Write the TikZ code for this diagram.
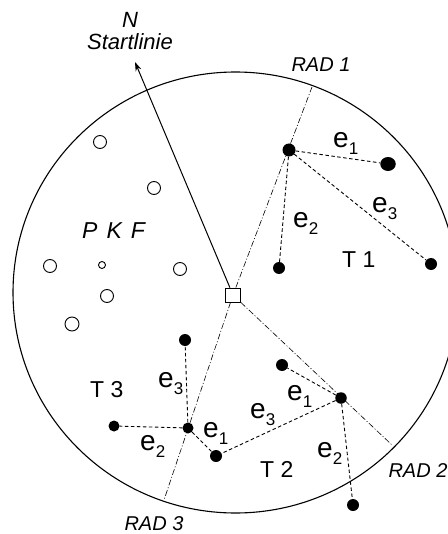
\documentclass[tikz,border=0pt]{standalone}
\usepackage{fontspec}
\setmainfont{Liberation Sans}
\usetikzlibrary{arrows.meta,shapes.geometric}

% letter e with a lowered index, as used for the edge labels
\newcommand{\elab}[1]{e\raisebox{-7pt}{\fontsize{17}{17}\selectfont #1}}

\begin{document}
\begin{tikzpicture}[x=1pt,y=-1pt,
  dot/.style={circle,fill=black,inner sep=0pt,minimum size=12pt},
  hole/.style={circle,draw=black,line width=0.9pt,inner sep=0pt,minimum size=13pt},
  edge/.style={line width=0.9pt,dash pattern=on 3.5pt off 2.5pt},
  rad/.style={line width=0.6pt,dash pattern=on 6pt off 2pt on 1pt off 2pt},
  elabel/.style={anchor=base west,inner sep=0pt,font=\fontsize{28}{28}\selectfont},
  tlabel/.style={anchor=base west,inner sep=0pt,font=\fontsize{23}{23}\selectfont},
  radlabel/.style={anchor=base,inner sep=0pt,font=\fontsize{20}{20}\selectfont\itshape},
]
\useasboundingbox (0,0) rectangle (447,534);

% plot boundary
\draw[line width=1.1pt] (235.5,292.5) ellipse [x radius=222.5pt, y radius=220.5pt];

% centre marker
\node[draw=black,line width=0.8pt,fill=white,minimum width=15pt,minimum height=14pt,inner sep=0pt] (sq) at (233,295) {};

% north / start line
\coordinate (tip) at (135,62);
\draw[line width=1pt,-{Stealth[length=9pt,width=6pt]}] (sq) -- (tip);
\node[radlabel,font=\fontsize{22}{22}\selectfont\itshape] (n) at (130,28) {N};
\node[radlabel,font=\fontsize{22}{22}\selectfont\itshape] (start) at (130,50) {Startlinie};

% radial lines
\coordinate (r1) at (312,87);
\coordinate (r2) at (392,445);
\coordinate (r3) at (164,500);
\draw[rad] (sq) -- (r1);
\draw[rad] (sq) -- (r2);
\draw[rad] (sq) -- (r3);
\node[radlabel] (rad1) at (321,72) {RAD 1};
\node[radlabel] (rad2) at (418,477) {RAD 2};
\node[radlabel] (rad3) at (154,530) {RAD 3};

% open points
\node[hole] (o1) at (100,142) {};
\node[hole] (o2) at (154,188) {};
\node[hole] (o3) at (50,266) {};
\node[hole,minimum size=7pt] (o4) at (102,265) {};
\node[hole] (o5) at (107,296) {};
\node[hole,minimum size=14pt] (o6) at (72,324) {};
\node[hole] (o7) at (180,269) {};
\node[anchor=base west,inner sep=0pt,font=\fontsize{23}{23}\selectfont\itshape] (pkf) at (82,238) {P\hspace{9pt}K\hspace{9pt}F};

% tree 1
\node[dot,minimum size=13pt] (t1h) at (289,150) {};
\node[dot,ellipse,minimum width=15.5pt,minimum height=14pt] (t1a) at (388,164) {};
\node[dot] (t1b) at (279,268) {};
\node[dot] (t1c) at (431,264) {};
\draw[edge] (t1h) -- (t1a);
\draw[edge] (t1h) -- (t1b);
\draw[edge] (t1h) -- (t1c);
\node[elabel] (t1e1) at (333,148) {\elab{1}};
\node[elabel] (t1e2) at (293,227) {\elab{2}};
\node[elabel] (t1e3) at (372,212) {\elab{3}};
\node[tlabel] (t1) at (342,267) {T 1};

% tree 2
\node[dot,minimum size=11.5pt] (t2h) at (341,398) {};
\node[dot] (t2a) at (282,365) {};
\node[dot] (shared) at (216,456) {};
\node[dot] (t2b) at (353,505) {};
\draw[edge] (t2h) -- (t2a);
\draw[edge] (t2h) -- (shared);
\draw[edge] (t2h) -- (t2b);
\node[elabel] (t2e1) at (287,400) {\elab{1}};
\node[elabel] (t2e3) at (250,418) {\elab{3}};
\node[elabel] (t2e2) at (317,457) {\elab{2}};
\node[tlabel] (t2) at (260,477) {T 2};

% tree 3
\node[dot,minimum size=11pt] (t3h) at (188,428) {};
\node[dot] (t3a) at (185,340) {};
\node[dot,minimum size=11pt] (t3b) at (114,426) {};
\draw[edge] (t3h) -- (t3a);
\draw[edge] (t3h) -- (t3b);
\draw[edge] (t3h) -- (shared);
\node[elabel] (t3e3) at (158,387) {\elab{3}};
\node[elabel] (t3e1) at (203,437) {\elab{1}};
\node[elabel] (t3e2) at (140,450) {\elab{2}};
\node[tlabel] (t3) at (90,397) {T 3};
\end{tikzpicture}
\end{document}
